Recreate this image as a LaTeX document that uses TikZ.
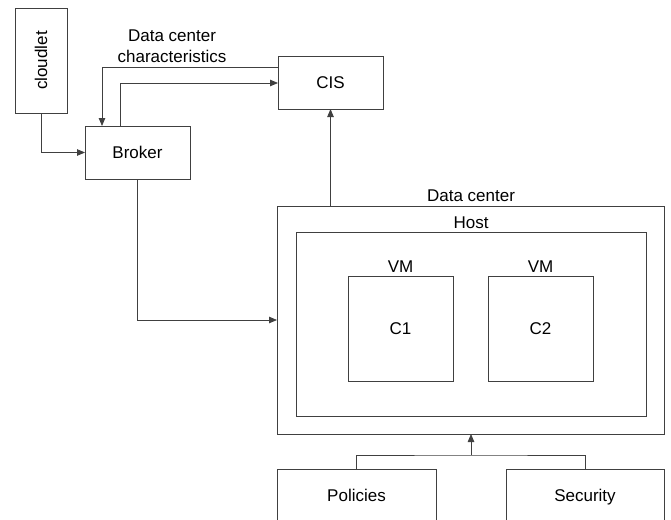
\documentclass[tikz,border=0pt]{standalone}
\usepackage{fontspec}
\setmainfont{Liberation Sans}
\usetikzlibrary{arrows.meta}
\begin{document}
\begin{tikzpicture}[x=1pt,y=-1pt,
  lc/.style={draw=black!75, line width=0.8pt},
  box/.style={lc, fill=white, rectangle, inner sep=0pt, outer sep=0pt, anchor=north west,
    text height=12pt, text depth=0pt, font=\fontsize{17}{20}\selectfont},
  lbl/.style={inner sep=0pt, font=\fontsize{17}{21}\selectfont},
  arr/.style={lc, -{Triangle[length=8pt,width=6.5pt]}, rounded corners=0pt}
]
\useasboundingbox (0,0) rectangle (671,519);
\clip (0,0) rectangle (671,519);
% boxes
\node[box, minimum width=52, minimum height=105] (cloudlet) at (15,8) {};
\node[lbl, rotate=90] (cloudtxt) at (cloudlet.center) {cloudlet};
\node[box, minimum width=105, minimum height=53] (cis) at (278,56) {CIS};
\node[box, minimum width=105, minimum height=53] (broker) at (85,126) {Broker};
\node[box, minimum width=387, minimum height=228] (dc) at (277,206) {};
\node[box, minimum width=350, minimum height=184] (host) at (296,232) {};
\node[box, minimum width=105, minimum height=105] (vm1) at (348,276) {C1};
\node[box, minimum width=105, minimum height=105] (vm2) at (488,276) {C2};
\node[box, minimum width=159, minimum height=52] (pol) at (277,469) {Policies};
\node[box, minimum width=158, minimum height=52] (sec) at (506,469) {Security};
% labels
\node[lbl, align=center] (dcc) at (172,46) {Data center\\characteristics};
\node[lbl, anchor=base] (dclbl) at (471,201) {Data center};
\node[lbl, anchor=base] (hostlbl) at (471,228) {Host};
\node[lbl, anchor=base] (vm1lbl) at (vm1.north |- 0,272) {VM};
\node[lbl, anchor=base] (vm2lbl) at (vm2.north |- 0,272) {VM};
% connectors
\draw[arr] (cloudlet.south) |- (broker.west);
\draw[arr] (cis.west |- 0,67) -| (broker.north -| 102,0);
\draw[arr] (broker.north -| 120,0) |- (cis.west |- 0,83);
\draw[arr] (broker.south -| 137,0) |- (dc.west |- 0,320);
\draw[arr] (dc.north -| cis.south) -- (cis.south);
\coordinate (junc) at (471,455);
\draw[lc] (pol.north) |- (junc) -| (sec.north);
\draw[arr] (junc) -- (dc.south -| junc);
\end{tikzpicture}
\end{document}
